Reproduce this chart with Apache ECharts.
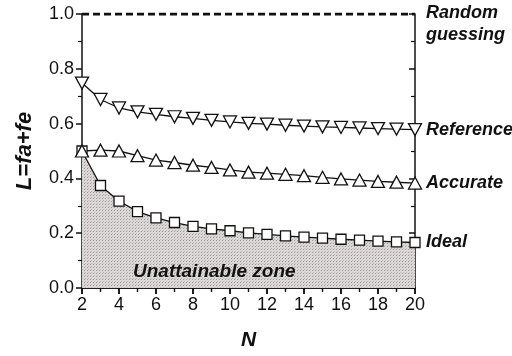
<!DOCTYPE html>
<html><head><meta charset="utf-8">
<script src="https://cdn.jsdelivr.net/npm/echarts@6/dist/echarts.min.js"></script>
<style>html,body{margin:0;padding:0;background:#fff}#c{width:512px;height:356px}</style>
</head><body><div id="c"></div>
<script>
const N = [2,3,4,5,6,7,8,9,10,11,12,13,14,15,16,17,18,19,20];
const randomGuess = [1,1,1,1,1,1,1,1,1,1,1,1,1,1,1,1,1,1,1];
const reference = [0.748,0.688,0.657,0.643,0.634,0.625,0.619,0.612,0.606,0.601,0.598,0.594,0.591,0.588,0.586,0.584,0.582,0.580,0.578];
const accurate = [0.500,0.503,0.500,0.483,0.467,0.458,0.448,0.440,0.431,0.423,0.419,0.415,0.410,0.404,0.398,0.394,0.389,0.386,0.383];
const ideal = [0.500,0.374,0.317,0.279,0.256,0.239,0.225,0.216,0.209,0.201,0.196,0.190,0.186,0.182,0.178,0.175,0.171,0.168,0.166];
const yTicks = [0.0,0.2,0.4,0.6,0.8,1.0];

function pattern(){
  const c=document.createElement('canvas');c.width=3;c.height=3;
  const g=c.getContext('2d');g.fillStyle='#dcd8d8';g.fillRect(0,0,3,3);
  g.fillStyle='#9c9898';g.fillRect(0,0,1,1);g.fillStyle='#bcb8b8';g.fillRect(1,2,1,1);
  return c;
}
const pair = (arr)=>N.map((n,i)=>[n,arr[i]]);
const font = '"Liberation Sans", Arial, sans-serif';
const chart = echarts.init(document.getElementById('c'));
const lbl = (txt, off)=>({show:true, formatter:txt, offset:off, fontFamily:font, fontSize:18, fontWeight:'bold', fontStyle:'italic', color:'#111', lineHeight:22, align:'left'});
chart.setOption({
  animation:false,
  grid:{left:82,right:97,top:14,bottom:58},
  xAxis:[{type:'value',min:2,max:20,interval:2,position:'bottom',
    name:'N',nameLocation:'middle',nameGap:42,
    nameTextStyle:{fontFamily:font,fontSize:21,fontWeight:'bold',fontStyle:'italic',color:'#111'},
    axisLine:{lineStyle:{color:'#111',width:1.5}},
    axisTick:{inside:false,length:6,lineStyle:{color:'#111',width:1.5}},
    minorTick:{show:true,splitNumber:2,length:4,lineStyle:{color:'#111',width:1.2}},
    axisLabel:{fontFamily:font,fontSize:18,color:'#111',margin:8},
    splitLine:{show:false}},
   {type:'value',min:2,max:20,interval:2,position:'top',
    axisLine:{lineStyle:{color:'#111',width:1.5}},
    axisTick:{inside:true,length:6,lineStyle:{color:'#111',width:1.5}},
    minorTick:{show:true,splitNumber:2,length:4,lineStyle:{color:'#111',width:1.2}},
    axisLabel:{show:false},splitLine:{show:false}}],
  yAxis:[{type:'value',min:0,max:1,interval:0.2,position:'left',
    name:'L=fa+fe',nameLocation:'middle',nameGap:46,
    nameTextStyle:{fontFamily:font,fontSize:22,fontWeight:'bold',fontStyle:'italic',color:'#111'},
    axisLine:{show:true,lineStyle:{color:'#111',width:1.5}},
    axisTick:{show:true,inside:false,length:6,lineStyle:{color:'#111',width:1.5}},
    minorTick:{show:true,splitNumber:2,length:4,lineStyle:{color:'#111',width:1.2}},
    axisLabel:{fontFamily:font,fontSize:18,color:'#111',margin:8,formatter:v=>v.toFixed(1)},
    splitLine:{show:false}},
   {type:'value',min:0,max:1,interval:0.2,position:'right',
    axisLine:{show:true,lineStyle:{color:'#111',width:1.5}},
    axisTick:{show:true,inside:true,length:6,lineStyle:{color:'#111',width:1.5}},
    minorTick:{show:true,splitNumber:2,length:4,lineStyle:{color:'#111',width:1.2}},
    axisLabel:{show:false},splitLine:{show:false}}],
  series:[
    {type:'line',name:'Ideal',data:pair(ideal),symbol:'rect',symbolSize:10,z:3,
     lineStyle:{color:'#111',width:1.3},itemStyle:{color:'#fff',borderColor:'#111',borderWidth:1.3},
     areaStyle:{color:{image:pattern(),repeat:'repeat'},opacity:1},
     endLabel:lbl('Ideal',[3,0])},
    {type:'line',name:'Accurate',data:pair(accurate),symbol:'triangle',symbolSize:[13,12],
     lineStyle:{color:'#111',width:1.3},itemStyle:{color:'#fff',borderColor:'#111',borderWidth:1.3},
     endLabel:lbl('Accurate',[3,0])},
    {type:'line',name:'Reference',data:pair(reference),symbol:'triangle',symbolRotate:180,symbolSize:[13,12],
     lineStyle:{color:'#111',width:1.3},itemStyle:{color:'#fff',borderColor:'#111',borderWidth:1.3},
     endLabel:lbl('Reference',[3,0])},
    {type:'line',name:'Random guessing',data:pair(randomGuess),symbol:'none',
     lineStyle:{color:'#111',width:3,type:[7,4]},
     endLabel:lbl('Random\nguessing',[3,10])}
  ],
  graphic:[{type:'text',left:133,top:262,z:100,zlevel:1,style:{text:'Unattainable zone',fontFamily:font,fontSize:19,fontWeight:'bold',fontStyle:'italic',fill:'#111'}}]
});
</script></body></html>
